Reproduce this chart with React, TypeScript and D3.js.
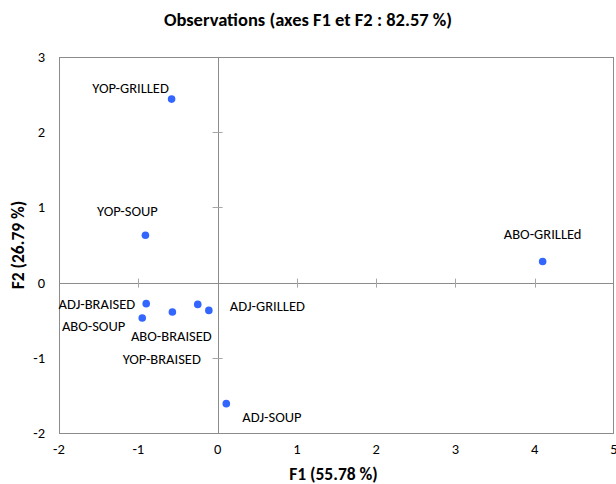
import React, { useEffect, useRef } from 'react';
import * as d3 from 'd3';

const names = ['YOP-GRILLED', 'YOP-SOUP', 'ABO-GRILLEd', 'ADJ-BRAISED', 'ABO-SOUP', 'ABO-BRAISED', 'ADJ-GRILLED', 'YOP-BRAISED', 'ADJ-SOUP'];
const f1 = [-0.58, -0.91, 4.10, -0.90, -0.95, -0.57, -0.11, -0.25, 0.11];
const f2 = [2.44, 0.63, 0.28, -0.28, -0.47, -0.39, -0.37, -0.29, -1.61];
const xTicks = [-2, -1, 0, 1, 2, 3, 4, 5];
const yTicks = [-2, -1, 0, 1, 2, 3];

// label placement relative to each point (px)
const labelPos = [
  { dx: -41, dy: -11, anchor: 'middle' },
  { dx: -18, dy: -24, anchor: 'middle' },
  { dx: 0, dy: -28, anchor: 'middle' },
  { dx: -11, dy: 0, anchor: 'end' },
  { dx: -17, dy: 8, anchor: 'end' },
  { dx: -1, dy: 24, anchor: 'middle' },
  { dx: 21, dy: -4, anchor: 'start' },
  { dx: -36, dy: 55, anchor: 'middle' },
  { dx: 16, dy: 13, anchor: 'start' },
];

const App = () => {
  const svgRef = useRef<SVGSVGElement>(null);
  const width = 616;
  const height = 484;

  useEffect(() => {
    const margin = { top: 57, right: 2, bottom: 51, left: 59 };
    const svg = d3.select(svgRef.current);
    svg.selectAll('*').remove();
    const font = 'Carlito, Calibri, "Open Sans", sans-serif';

    const x = d3.scaleLinear().domain([-2, 5]).range([margin.left, width - margin.right]);
    const y = d3.scaleLinear().domain([-2, 3]).range([height - margin.bottom, margin.top]);

    const data = names.map((n, i) => ({ name: n, x: f1[i], y: f2[i], ...labelPos[i] }));

    // frame
    svg.append('rect')
      .attr('x', x(-2) + 0.5)
      .attr('y', y(3) + 0.5)
      .attr('width', x(5) - x(-2) - 1)
      .attr('height', y(-2) - y(3))
      .attr('fill', 'none')
      .attr('stroke', '#8c8c8c')
      .attr('stroke-width', 1);

    // zero axes
    svg.append('line')
      .attr('x1', x(-2)).attr('x2', x(5))
      .attr('y1', Math.round(y(0)) + 0.5).attr('y2', Math.round(y(0)) + 0.5)
      .attr('stroke', '#8c8c8c');
    svg.append('line')
      .attr('x1', Math.round(x(0)) + 0.5).attr('x2', Math.round(x(0)) + 0.5)
      .attr('y1', y(3)).attr('y2', y(-2))
      .attr('stroke', '#8c8c8c');

    // tick marks on the zero axes
    svg.selectAll('.xt')
      .data(xTicks.filter((t) => t !== 0 && t !== -2 && t !== 5))
      .enter()
      .append('line')
      .attr('x1', (d) => Math.round(x(d)) + 0.5)
      .attr('x2', (d) => Math.round(x(d)) + 0.5)
      .attr('y1', y(0) - 4)
      .attr('y2', y(0) + 5)
      .attr('stroke', '#a6a6a6');
    svg.selectAll('.yt')
      .data(yTicks.filter((t) => t !== 0 && t !== -2 && t !== 3))
      .enter()
      .append('line')
      .attr('y1', (d) => Math.round(y(d)) + 0.5)
      .attr('y2', (d) => Math.round(y(d)) + 0.5)
      .attr('x1', x(0) - 5)
      .attr('x2', x(0) + 5)
      .attr('stroke', '#a6a6a6');

    // tick labels
    svg.selectAll('.xl')
      .data(xTicks)
      .enter()
      .append('text')
      .attr('x', (d) => x(d))
      .attr('y', height - margin.bottom + 21)
      .attr('text-anchor', 'middle')
      .style('font-family', font)
      .style('font-size', '14.5px')
      .style('fill', '#000')
      .text((d) => d);
    svg.selectAll('.yl')
      .data(yTicks)
      .enter()
      .append('text')
      .attr('x', margin.left - 14)
      .attr('y', (d) => y(d) + 5)
      .attr('text-anchor', 'end')
      .style('font-family', font)
      .style('font-size', '14.5px')
      .style('fill', '#000')
      .text((d) => d);

    // points
    svg.selectAll('circle')
      .data(data)
      .enter()
      .append('circle')
      .attr('cx', (d) => x(d.x))
      .attr('cy', (d) => y(d.y))
      .attr('r', 3.8)
      .attr('fill', '#3366ff');

    // point labels
    svg.selectAll('.pl')
      .data(data)
      .enter()
      .append('text')
      .attr('x', (d) => x(d.x) + d.dx)
      .attr('y', (d) => y(d.y) + d.dy + 5)
      .attr('text-anchor', (d) => d.anchor)
      .style('font-family', font)
      .style('font-size', '14.5px')
      .style('fill', '#000')
      .text((d) => d.name);

    // titles
    svg.append('text')
      .attr('x', width / 2)
      .attr('y', 26)
      .attr('text-anchor', 'middle')
      .style('font-family', font)
      .style('font-size', '18.5px')
      .style('font-weight', 'bold')
      .text('Observations (axes F1 et F2 : 82.57 %)');

    svg.append('text')
      .attr('x', (x(-2) + x(5)) / 2 - 3)
      .attr('y', 480)
      .attr('text-anchor', 'middle')
      .style('font-family', font)
      .style('font-size', '17.5px')
      .style('font-weight', 'bold')
      .text('F1 (55.78 %)');

    svg.append('text')
      .attr('transform', 'rotate(-90)')
      .attr('x', -(y(3) + y(-2)) / 2)
      .attr('y', 24)
      .attr('text-anchor', 'middle')
      .style('font-family', font)
      .style('font-size', '17.5px')
      .style('font-weight', 'bold')
      .text('F2 (26.79 %)');
  }, []);

  return (
    <svg
      ref={svgRef}
      width={width}
      height={height}
      style={{ position: 'absolute', left: 0, top: 0, background: '#fff' }}
    ></svg>
  );
};

export default App;
